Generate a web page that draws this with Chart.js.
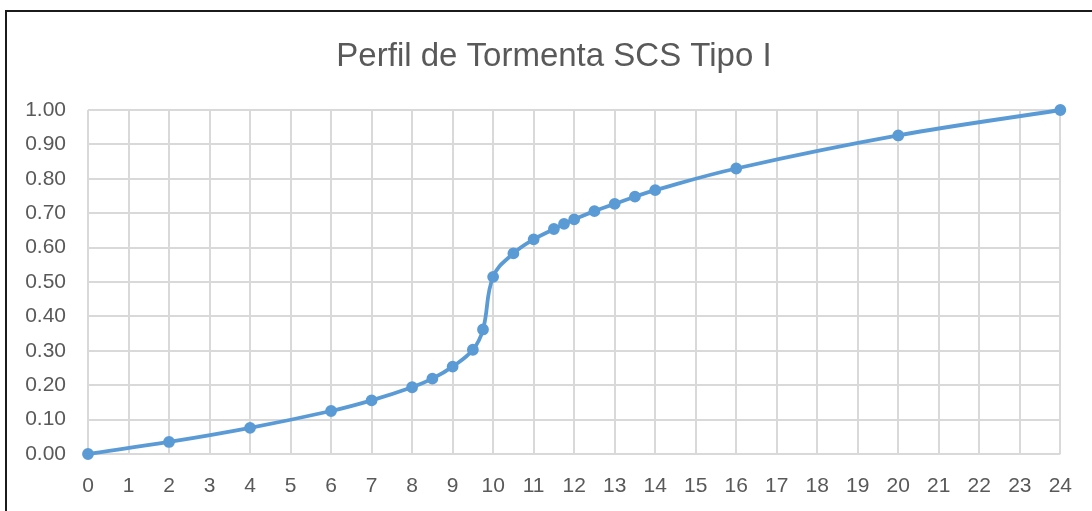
<!DOCTYPE html>
<html>
<head>
<meta charset="utf-8">
<script src="https://cdn.jsdelivr.net/npm/chart.js@4"></script>
<style>
    html, body { margin: 0; padding: 0; background: #fff; }
    .wrap { position: relative; width: 1092px; height: 511px; overflow: hidden; }
    .frame {
        position: absolute; left: 5px; top: 10px;
        width: 1200px; height: 600px;
        border: 2px solid #1b1b1b;
    }
    canvas { position: absolute; left: 0; top: 0; }
</style>
</head>
<body>
<div class="wrap">
    <div class="frame"></div>
    <canvas id="chart" width="1092" height="511"></canvas>
</div>
<script>
/* ── Data: SCS Type I cumulative rainfall ── */
const horas      = [0, 2, 4, 6, 7, 8, 8.5, 9, 9.5, 9.75, 10, 10.5, 11, 11.5, 11.75, 12, 12.5, 13, 13.5, 14, 16, 20, 24];
const fraccion   = [0, 0.035, 0.076, 0.125, 0.156, 0.194, 0.219, 0.254, 0.303, 0.362, 0.515, 0.583, 0.624, 0.654, 0.669, 0.682, 0.706, 0.727, 0.748, 0.767, 0.830, 0.926, 1.0];
const tituloTxt  = 'Perfil de Tormenta SCS Tipo I';

const azul   = '#5b9bd5';
const gris   = '#595959';
const grilla = '#d9d9d9';
const fuente = "'Liberation Sans', Arial, sans-serif";

const puntos = horas.map((h, i) => ({ x: h, y: fraccion[i] }));

/* ── Title: the frame runs past the right edge, so centre on the frame ── */
const tituloPlugin = {
    id: 'tituloPlugin',
    afterDraw(chart) {
        const { ctx } = chart;
        ctx.save();
        ctx.fillStyle = gris;
        ctx.font = '33px ' + fuente;
        ctx.textAlign = 'center';
        ctx.textBaseline = 'middle';
        ctx.fillText(tituloTxt, 554, 57);
        ctx.restore();
    }
};

new Chart(document.getElementById('chart'), {
    type: 'scatter',
    data: {
        datasets: [{
            data: puntos,
            showLine: true,
            clip: false,
            borderColor: azul,
            backgroundColor: azul,
            borderWidth: 3.8,
            pointRadius: 4,
            pointHoverRadius: 4,
            tension: 0.4
        }]
    },
    options: {
        responsive: false,
        animation: false,
        layout: { padding: { left: 0, right: 31, top: 110, bottom: 0 } },
        plugins: {
            legend: { display: false },
            tooltip: { enabled: false },
            title: { display: false }
        },
        scales: {
            x: {
                type: 'linear',
                min: 0, max: 24,
                ticks: {
                    stepSize: 1,
                    color: gris,
                    padding: 20,
                    font: { family: fuente, size: 21 }
                },
                grid: { color: grilla, lineWidth: 2, drawTicks: false },
                border: { display: false },
                afterFit: s => { s.height = 57; }
            },
            y: {
                min: 0, max: 1,
                ticks: {
                    stepSize: 0.1,
                    color: gris,
                    padding: 22,
                    font: { family: fuente, size: 21 },
                    callback: v => v.toFixed(2)
                },
                grid: { color: grilla, lineWidth: 2, drawTicks: false },
                border: { display: false },
                afterFit: s => { s.width = 88; }
            }
        }
    },
    plugins: [tituloPlugin]
});
</script>
</body>
</html>
